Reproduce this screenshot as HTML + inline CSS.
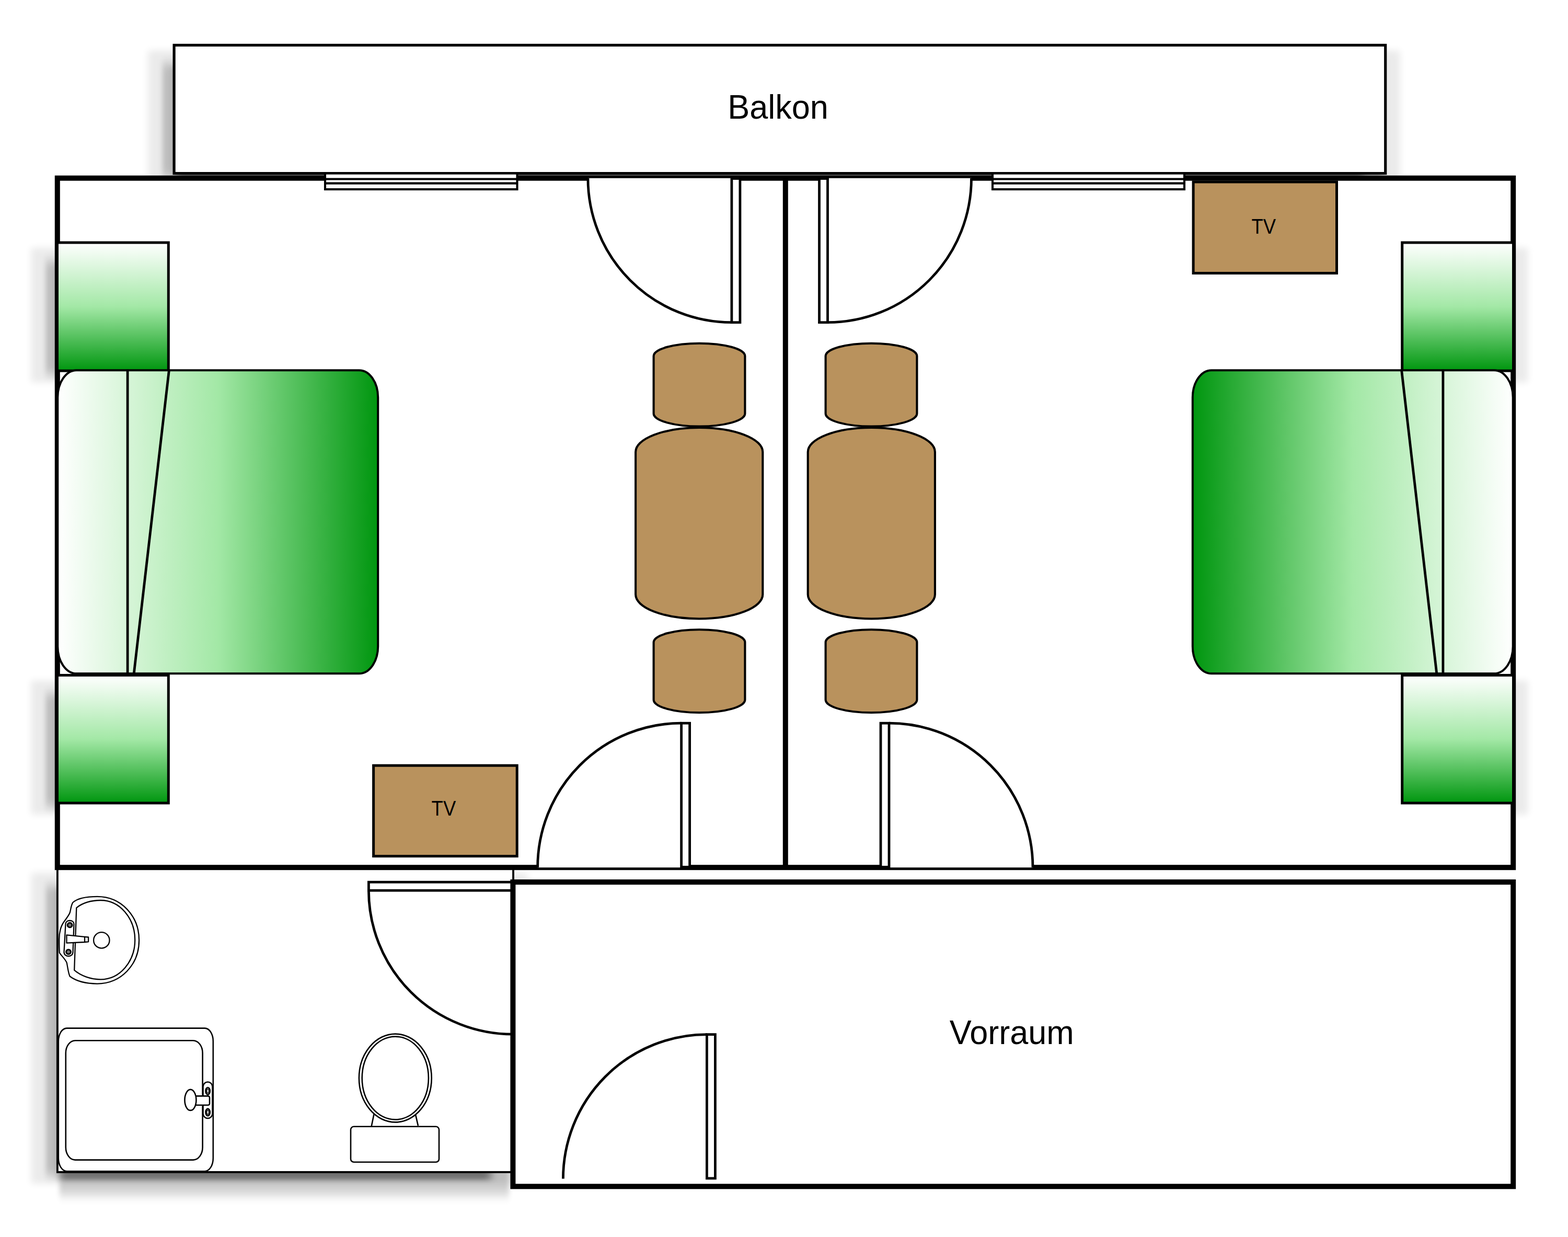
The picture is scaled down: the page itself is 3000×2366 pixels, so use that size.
<!DOCTYPE html>
<html lang="de">
<head>
<meta charset="utf-8">
<title>Grundriss</title>
<style>
html,body{margin:0;padding:0;background:#ffffff;}
body{width:3000px;height:2366px;overflow:hidden;}
svg{display:block;}
text{font-family:"Liberation Sans",sans-serif;fill:#000000;}
.s5{stroke:#000;stroke-width:5;}
.thin{stroke:#000;stroke-width:2.6;fill:#fff;}
</style>
</head>
<body>
<svg width="3000" height="2366" viewBox="0 0 3000 2366">
<defs>
<linearGradient id="gv" x1="0" y1="0" x2="0" y2="1">
<stop offset="0" stop-color="#ffffff"/><stop offset="0.5" stop-color="#a3e8a6"/><stop offset="1" stop-color="#00960f"/>
</linearGradient>
<linearGradient id="gh" x1="0" y1="0" x2="1" y2="0">
<stop offset="0" stop-color="#ffffff"/><stop offset="0.5" stop-color="#a3e8a6"/><stop offset="1" stop-color="#00960f"/>
</linearGradient>
<filter id="b1" x="0" y="0" width="3000" height="2366" filterUnits="userSpaceOnUse">
<feGaussianBlur stdDeviation="7 7"/>
</filter>
<filter id="b2" x="0" y="0" width="3000" height="2366" filterUnits="userSpaceOnUse">
<feGaussianBlur stdDeviation="5 10"/>
</filter>
<filter id="b3" x="0" y="0" width="3000" height="2366" filterUnits="userSpaceOnUse">
<feGaussianBlur stdDeviation="8 5"/>
</filter>
<g id="door">
<path d="M-275,0 A275,276 0 0 1 0,-276 L16,-276 L16,0 Z" fill="#fff" stroke="none"/>
<path d="M-275,0 A275,276 0 0 1 0,-276" fill="none" stroke="#000" stroke-width="4.8"/>
<rect x="0" y="-276" width="16" height="275.2" fill="#fff" stroke="#000" stroke-width="4.8"/>
</g>
<g id="chair">
<path d="M-87.4,-55 A87.4,24.4 0 0 1 87.4,-55 L87.4,55 A87.4,24.4 0 0 1 -87.4,55 Z" fill="#b9925d" stroke="#000" stroke-width="4.1" stroke-linejoin="round"/>
</g>
<g id="table">
<path d="M-121.6,-136.35 A121.6,46.4 0 0 1 121.6,-136.35 L121.6,136.35 A121.6,46.4 0 0 1 -121.6,136.35 Z" fill="#b9925d" stroke="#000" stroke-width="4.1" stroke-linejoin="round"/>
</g>
</defs>
<rect x="0" y="0" width="3000" height="2366" fill="#ffffff"/>

<!-- Balkon -->
<rect x="283.1" y="96.4" width="2395.6" height="257.2" fill="#000" opacity="0.08" filter="url(#b1)"/><rect x="311.1" y="121.4" width="26.0" height="216.2" fill="#000" opacity="0.19" filter="url(#b2)"/><rect x="337.1" y="121.4" width="2305.6" height="254.2" fill="#000" opacity="0.19" filter="url(#b2)"/><rect x="338.1" y="126.4" width="2269.6" height="220.2" fill="#000" opacity="0.4" filter="url(#b3)"/>
<rect x="333.10" y="86.40" width="2317.60" height="245.20" fill="#fff" stroke="#000" stroke-width="5.2"/>
<text transform="translate(1488.6,227.3) scale(1,1.04)" font-size="63" text-anchor="middle">Balkon</text>
<!-- Bad -->
<rect x="59.9" y="1669.2" width="950.1" height="594.7" fill="#000" opacity="0.08" filter="url(#b1)"/><rect x="87.9" y="1694.2" width="26.0" height="553.7" fill="#000" opacity="0.19" filter="url(#b2)"/><rect x="113.9" y="1694.2" width="860.1" height="591.7" fill="#000" opacity="0.19" filter="url(#b2)"/><rect x="114.9" y="1699.2" width="824.1" height="557.7" fill="#000" opacity="0.4" filter="url(#b3)"/>
<rect x="109.90" y="1659.20" width="872.10" height="582.70" fill="#fff" stroke="#000" stroke-width="3.8"/>
<rect x="59.5" y="474.0" width="290.8" height="257.2" fill="#000" opacity="0.08" filter="url(#b1)"/><rect x="87.5" y="499.0" width="26.0" height="216.2" fill="#000" opacity="0.19" filter="url(#b2)"/><rect x="113.5" y="499.0" width="200.8" height="254.2" fill="#000" opacity="0.19" filter="url(#b2)"/><rect x="114.5" y="504.0" width="164.8" height="220.2" fill="#000" opacity="0.4" filter="url(#b3)"/>
<rect x="2632.7" y="474.0" width="290.8" height="257.2" fill="#000" opacity="0.08" filter="url(#b1)"/><rect x="2660.7" y="499.0" width="26.0" height="216.2" fill="#000" opacity="0.19" filter="url(#b2)"/><rect x="2686.7" y="499.0" width="200.8" height="254.2" fill="#000" opacity="0.19" filter="url(#b2)"/><rect x="2687.7" y="504.0" width="164.8" height="220.2" fill="#000" opacity="0.4" filter="url(#b3)"/>
<rect x="59.5" y="1301.5" width="290.8" height="256.5" fill="#000" opacity="0.08" filter="url(#b1)"/><rect x="87.5" y="1326.5" width="26.0" height="215.5" fill="#000" opacity="0.19" filter="url(#b2)"/><rect x="113.5" y="1326.5" width="200.8" height="253.5" fill="#000" opacity="0.19" filter="url(#b2)"/><rect x="114.5" y="1331.5" width="164.8" height="219.5" fill="#000" opacity="0.4" filter="url(#b3)"/>
<rect x="2632.7" y="1301.5" width="290.8" height="256.5" fill="#000" opacity="0.08" filter="url(#b1)"/><rect x="2660.7" y="1326.5" width="26.0" height="215.5" fill="#000" opacity="0.19" filter="url(#b2)"/><rect x="2686.7" y="1326.5" width="200.8" height="253.5" fill="#000" opacity="0.19" filter="url(#b2)"/><rect x="2687.7" y="1331.5" width="164.8" height="219.5" fill="#000" opacity="0.4" filter="url(#b3)"/>
<!-- Zimmer -->
<rect x="109.80" y="340.70" width="2785.40" height="1318.50" fill="#fff" stroke="#000" stroke-width="10"/>
<line x1="1502.8" y1="340.7" x2="1502.8" y2="1659.2" stroke="#000" stroke-width="10"/>
<!-- Fenster -->
<rect x="622.00" y="331.60" width="367.50" height="30.50" fill="#fff" stroke="#000" stroke-width="4.1"/><line x1="622.0" y1="342.5" x2="989.5" y2="342.5" stroke="#000" stroke-width="4.1"/><line x1="622.0" y1="350.6" x2="989.5" y2="350.6" stroke="#000" stroke-width="4.1"/>
<rect x="1899.00" y="331.60" width="367.00" height="30.50" fill="#fff" stroke="#000" stroke-width="4.1"/><line x1="1899.0" y1="342.5" x2="2266.0" y2="342.5" stroke="#000" stroke-width="4.1"/><line x1="1899.0" y1="350.6" x2="2266.0" y2="350.6" stroke="#000" stroke-width="4.1"/>
<!-- Waschbecken -->
<g fill="#ffffff" stroke="#000000" stroke-width="2.3" stroke-linejoin="round" stroke-linecap="round">
<path transform="translate(189.6,1798.2) scale(0.988,0.986) translate(-189.6,-1798.2)" d="M112.3,1797 C112.3,1780 116,1770 122,1762 C128,1754 131,1750 133,1745 C135,1738 135,1732 138.5,1725.5 C150,1715 170,1713.8 186,1713.8 C232,1713.8 267,1751 267,1798.2 C267,1846 232,1882.7 186,1882.7 C162,1882.7 146,1878 133,1868.5 C130,1862 129.5,1855 127,1842 C124,1835 118,1830 113,1823 C112.3,1815 112.3,1806 112.3,1797 Z"/>
<path d="M146.3,1736.3 C158,1727 175,1722 192.5,1722 C229,1722 258.2,1756 258.2,1797.7 C258.2,1839.5 229,1873.3 192.5,1873.3 C173,1873.3 154,1866 142.2,1855.7 Z"/>
<circle cx="194.3" cy="1798.4" r="15.2"/>
<path d="M125.5,1767.5 C125.5,1758.5 141.5,1758.5 141.5,1767.5 L139.5,1821 C139.5,1831.5 122.5,1831.5 122.5,1821 Z"/>
<circle cx="133.6" cy="1769.4" r="4.4" stroke-width="3" fill="#777777"/>
<circle cx="131" cy="1820.6" r="4.4" stroke-width="3" fill="#777777"/>
<path d="M127.5,1788.4 L162,1791.8 L169.1,1792.5 L169.1,1801.3 L162,1802 L127.5,1803.6 Z"/>
<path d="M162,1791.8 L162,1802"/>
</g>
<!-- Dusche -->
<g fill="#ffffff" stroke="#000000" stroke-width="2.6">
<rect x="111.8" y="1966.6" width="296" height="273.6" rx="16" ry="25"/>
<rect x="125.8" y="1990.2" width="261.8" height="228.4" rx="18" ry="24"/>
<rect x="388.5" y="2069.5" width="18" height="69.5" rx="9" ry="9"/>
<ellipse cx="397.6" cy="2086.8" rx="4.2" ry="6.8"/>
<ellipse cx="397.6" cy="2127.4" rx="4.2" ry="6.8"/>
<ellipse cx="397.6" cy="2086.8" rx="2" ry="4" stroke-width="1.6"/>
<ellipse cx="397.6" cy="2127.4" rx="2" ry="4" stroke-width="1.6"/>
<rect x="371" y="2096.4" width="30" height="17.4" rx="3" ry="3"/>
<ellipse cx="364.4" cy="2103.9" rx="11" ry="20"/>
</g>
<!-- WC -->
<g fill="#ffffff" stroke="#000000" stroke-width="2.6">
<path d="M715.6,2130.5 L710.7,2154.3 M795.1,2132.1 L800,2153.4" fill="none"/>
<ellipse cx="756.3" cy="2062" rx="69.4" ry="84.4"/>
<ellipse cx="756.3" cy="2062" rx="63.6" ry="79.4"/>
<rect x="671" y="2154.8" width="169" height="68" rx="6" ry="6"/>
</g>

<!-- Tueren -->
<use href="#door" transform="matrix(0,-1,1,0,981.4,1703.2)"/>
<!-- Vorraum -->
<rect x="981.40" y="1687.10" width="1913.80" height="582.20" fill="#fff" stroke="#000" stroke-width="10"/>
<text transform="translate(1935.8,1997.2) scale(1,1.04)" font-size="63" text-anchor="middle">Vorraum</text>
<use href="#door" transform="translate(1303.6,1659.2)"/>
<use href="#door" transform="translate(1701,1659.2) scale(-1,1)"/>
<use href="#door" transform="translate(1399.9,340.7) scale(1,-1)"/>
<use href="#door" transform="translate(1583.5,340.7) scale(-1,-1)"/>
<use href="#door" transform="translate(1352.4,2254.6)"/>
<!-- Moebel links -->
<g><rect x="109.50" y="464.00" width="212.80" height="245.20" fill="url(#gv)" stroke="#000" stroke-width="5"/>
<rect x="109.50" y="1291.50" width="212.80" height="244.50" fill="url(#gv)" stroke="#000" stroke-width="5"/>
<rect x="110.3" y="708.2" width="612.9" height="580.1" rx="36" ry="52" fill="url(#gh)" stroke="#000" stroke-width="4"/>
<line x1="244.1" y1="708.2" x2="244.1" y2="1288.6" stroke="#000" stroke-width="4.8"/>
<line x1="323.4" y1="708.2" x2="256.2" y2="1288.6" stroke="#000" stroke-width="4.8"/>
<use href="#chair" transform="translate(1338,736.1)"/>
<use href="#table" transform="translate(1337.7,1000.75)"/>
<use href="#chair" transform="translate(1338,1283.6)"/></g>
<!-- Moebel rechts -->
<g transform="translate(3005.0,0) scale(-1,1)"><rect x="109.50" y="464.00" width="212.80" height="245.20" fill="url(#gv)" stroke="#000" stroke-width="5"/>
<rect x="109.50" y="1291.50" width="212.80" height="244.50" fill="url(#gv)" stroke="#000" stroke-width="5"/>
<rect x="110.3" y="708.2" width="612.9" height="580.1" rx="36" ry="52" fill="url(#gh)" stroke="#000" stroke-width="4"/>
<line x1="244.1" y1="708.2" x2="244.1" y2="1288.6" stroke="#000" stroke-width="4.8"/>
<line x1="323.4" y1="708.2" x2="256.2" y2="1288.6" stroke="#000" stroke-width="4.8"/>
<use href="#chair" transform="translate(1338,736.1)"/>
<use href="#table" transform="translate(1337.7,1000.75)"/>
<use href="#chair" transform="translate(1338,1283.6)"/></g>
<!-- TV -->
<rect x="714.60" y="1464.20" width="274.60" height="173.40" fill="#b9925d" stroke="#000" stroke-width="5"/>
<text transform="translate(848.9,1559.6) scale(0.925,1.04)" font-size="39.4" text-anchor="middle" fill="#1c0600">TV</text>
<rect x="2283.10" y="348.00" width="274.40" height="174.50" fill="#b9925d" stroke="#000" stroke-width="5"/>
<text transform="translate(2417.7,446.6) scale(0.925,1.04)" font-size="39.4" text-anchor="middle" fill="#1c0600">TV</text>
</svg>
</body>
</html>
